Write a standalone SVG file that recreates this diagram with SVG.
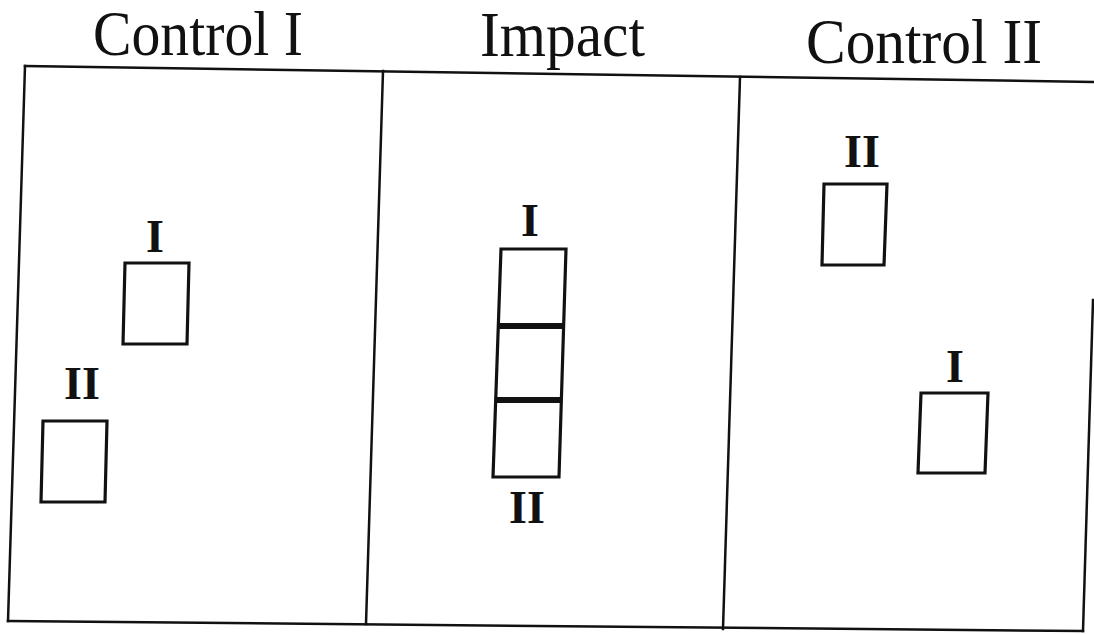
<svg xmlns="http://www.w3.org/2000/svg" width="1094" height="634" viewBox="0 0 1094 634">
  <style>
    .title { font-family: "Liberation Serif", "Times New Roman", serif; font-size: 64px; fill: #111; }
    .lbl { font-family: "Liberation Serif", "Times New Roman", serif; font-size: 46px; font-weight: bold; fill: #111; text-anchor: middle; }
    .frame { stroke: #111; stroke-width: 2.5; fill: none; stroke-linecap: square; }
    .box { stroke: #111; stroke-width: 3.2; fill: none; stroke-linejoin: miter; }
    .bar { stroke: #111; stroke-width: 6; }
  </style>
  <rect width="1094" height="634" fill="#fff"/>
  <g id="frame">
    <line class="frame" x1="25" y1="66" x2="1094" y2="82"/>
    <line class="frame" x1="25" y1="66" x2="8" y2="621"/>
    <line class="frame" x1="8" y1="621" x2="1083" y2="631"/>
    <line class="frame" x1="1093" y1="300" x2="1083" y2="631"/>
    <line class="frame" x1="383" y1="71" x2="366" y2="624"/>
    <line class="frame" x1="740" y1="77" x2="723" y2="629"/>
  </g>
  <g id="titles">
    <text class="title" x="93" y="55" textLength="210" lengthAdjust="spacingAndGlyphs">Control I</text>
    <text class="title" x="480" y="56" textLength="165" lengthAdjust="spacingAndGlyphs">Impact</text>
    <text class="title" x="806" y="63" textLength="236" lengthAdjust="spacingAndGlyphs">Control II</text>
  </g>
  <g id="control1-I">
    <text class="lbl" x="155" y="252">I</text>
    <polygon class="box" points="125,263 189,263 187,344 123,344"/>
  </g>
  <g id="control1-II">
    <text class="lbl" x="82" y="399">II</text>
    <polygon class="box" points="43,421 107,421 105,502 41,502"/>
  </g>
  <g id="impact">
    <text class="lbl" x="530" y="236">I</text>
    <polygon class="box" points="501,249 566,249 559,477 493,477"/>
    <line class="bar" x1="498.3" y1="326" x2="563.6" y2="326"/>
    <line class="bar" x1="495.7" y1="400" x2="561.4" y2="400"/>
    <text class="lbl" x="527" y="523">II</text>
  </g>
  <g id="control2-II">
    <text class="lbl" x="862" y="167">II</text>
    <polygon class="box" points="824,184 887,184 884,265 822,265"/>
  </g>
  <g id="control2-I">
    <text class="lbl" x="955" y="382">I</text>
    <polygon class="box" points="921,393 988,393 985,473 918,473"/>
  </g>
</svg>
